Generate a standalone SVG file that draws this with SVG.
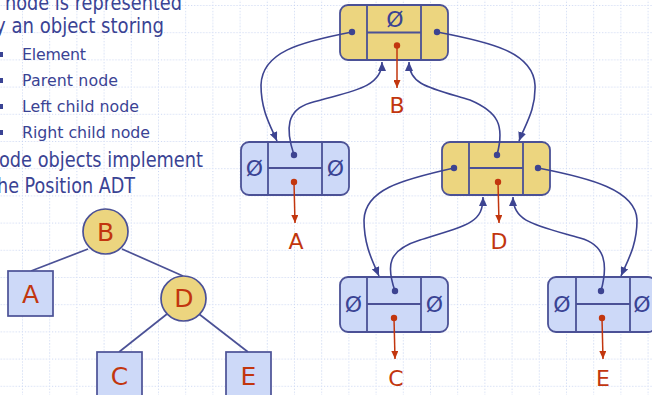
<svg xmlns="http://www.w3.org/2000/svg" width="652" height="395" viewBox="0 0 652 395">
  <defs>
    <style>
      .txt { font-family: "DejaVu Sans", Verdana, sans-serif; fill: #3a4394; }
      .main { font-size: 20.5px; }
      .sub { font-size: 15.8px; }
      .bullet { fill: #3a4394; }
      .tline { stroke: #4b5196; stroke-width: 1.7; fill: none; }
      .circ { fill: #ecd57f; stroke: #4b5196; stroke-width: 1.7; }
      .sq { fill: #cdd9f8; stroke: #4b5196; stroke-width: 1.7; }
      .tlabel { font-family: "DejaVu Sans", Verdana, sans-serif; font-size: 25px; fill: #c2360e; text-anchor: middle; }
      .box { stroke: #4b5196; stroke-width: 1.8; }
      .gold { fill: #ecd57f; }
      .blue { fill: #cdd9f8; }
      .div { stroke: #4b5196; stroke-width: 1.8; fill: none; }
      .null { font-family: "DejaVu Sans", Verdana, sans-serif; font-size: 22px; fill: #3a4394; text-anchor: middle; }
      .dot { fill: #3d4491; }
      .rdot { fill: #c2360e; }
      .link { stroke: #3d4491; stroke-width: 1.6; fill: none; marker-end: url(#arrow); }
      .elem { stroke: #c2360e; stroke-width: 1.5; fill: none; marker-end: url(#rarrow); }
      .nlabel { font-family: "DejaVu Sans", Verdana, sans-serif; font-size: 22px; fill: #c2360e; text-anchor: middle; }
    </style>
    <pattern id="grid" patternUnits="userSpaceOnUse" x="22" y="5" width="27.2" height="27.2">
      <path d="M0,0.5 H27.2 M0.5,0 V27.2" stroke="#c6d3f1" stroke-width="1" stroke-dasharray="1 2" fill="none"/>
    </pattern>
    <marker id="arrow" markerUnits="userSpaceOnUse" markerWidth="9" markerHeight="8" refX="9" refY="4" orient="auto">
      <path d="M0,0 L9,4 L0,8 z" fill="#3d4491"/>
    </marker>
    <marker id="rarrow" markerUnits="userSpaceOnUse" markerWidth="8" markerHeight="7" refX="8" refY="3.5" orient="auto">
      <path d="M0,0 L8,3.5 L0,7 z" fill="#c2360e"/>
    </marker>
  </defs>

  <!-- background with dotted grid -->
  <rect width="652" height="395" fill="#ffffff"/>
  <rect width="652" height="395" fill="url(#grid)"/>

  <!-- bullet text -->
  <g id="text">
    <text class="txt main" x="5" y="9.5" textLength="177" lengthAdjust="spacingAndGlyphs">node is represented</text>
    <text class="txt main" x="-5" y="33" textLength="169" lengthAdjust="spacingAndGlyphs">y an object storing</text>
    <rect class="bullet" x="-2" y="52" width="5" height="5"/>
    <text class="txt sub" x="22" y="60" textLength="64">Element</text>
    <rect class="bullet" x="-2" y="78" width="5" height="5"/>
    <text class="txt sub" x="22" y="86" textLength="96">Parent node</text>
    <rect class="bullet" x="-2" y="104" width="5" height="5"/>
    <text class="txt sub" x="22" y="112" textLength="117">Left child node</text>
    <rect class="bullet" x="-2" y="130" width="5" height="5"/>
    <text class="txt sub" x="22" y="138" textLength="128">Right child node</text>
    <text class="txt main" x="-1" y="167" textLength="204" lengthAdjust="spacingAndGlyphs">ode objects implement</text>
    <text class="txt main" x="-3" y="193" textLength="138" lengthAdjust="spacingAndGlyphs">he Position ADT</text>
  </g>

  <!-- small tree -->
  <g id="tree-edges">
    <line class="tline" x1="88" y1="249" x2="31" y2="271"/>
    <line class="tline" x1="122" y1="249" x2="183" y2="276"/>
    <line class="tline" x1="167" y1="314" x2="119" y2="352"/>
    <line class="tline" x1="199" y1="314" x2="248" y2="352"/>
  </g>
  <g id="tree-B">
    <circle class="circ" cx="105.5" cy="231.5" r="22.5"/>
    <text class="tlabel" x="105.5" y="240.5">B</text>
  </g>
  <g id="tree-A">
    <rect class="sq" x="8" y="271" width="45" height="45"/>
    <text class="tlabel" x="30.5" y="302.5">A</text>
  </g>
  <g id="tree-D">
    <circle class="circ" cx="183.5" cy="298.5" r="22.5"/>
    <text class="tlabel" x="184" y="307">D</text>
  </g>
  <g id="tree-C">
    <rect class="sq" x="97" y="352" width="45" height="45"/>
    <text class="tlabel" x="119.5" y="385">C</text>
  </g>
  <g id="tree-E">
    <rect class="sq" x="226" y="352" width="45" height="45"/>
    <text class="tlabel" x="248.5" y="385">E</text>
  </g>

  <!-- linked nodes -->
  <g id="node-B">
    <rect class="box gold" x="340" y="5" width="108" height="55" rx="8"/>
    <path class="div" d="M367,5 V60 M421,5 V60 M367,32.5 H421"/>
    <text class="null" x="395" y="27">Ø</text>
    <circle class="dot" cx="352" cy="32" r="3.2"/>
    <circle class="dot" cx="437" cy="32" r="3.2"/>
    <circle class="rdot" cx="397" cy="45.5" r="3.2"/>
    <text class="nlabel" x="397" y="113">B</text>
  </g>
  <g id="node-A">
    <rect class="box blue" x="241" y="142" width="108" height="53" rx="8"/>
    <path class="div" d="M268,142 V195 M322,142 V195 M268,168 H322"/>
    <text class="null" x="254.5" y="176">Ø</text>
    <text class="null" x="335.5" y="176">Ø</text>
    <circle class="dot" cx="294" cy="155" r="3.2"/>
    <circle class="rdot" cx="294" cy="182" r="3.2"/>
    <text class="nlabel" x="296" y="249">A</text>
  </g>
  <g id="node-D">
    <rect class="box gold" x="442" y="142" width="108" height="53" rx="8"/>
    <path class="div" d="M469,142 V195 M523,142 V195 M469,168 H523"/>
    <circle class="dot" cx="497" cy="155" r="3.2"/>
    <circle class="dot" cx="454" cy="168" r="3.2"/>
    <circle class="dot" cx="538" cy="168" r="3.2"/>
    <circle class="rdot" cx="498" cy="182" r="3.2"/>
    <text class="nlabel" x="499" y="249">D</text>
  </g>
  <g id="node-C">
    <rect class="box blue" x="340" y="277" width="108" height="55" rx="8"/>
    <path class="div" d="M367,277 V332 M421,277 V332 M367,304 H421"/>
    <text class="null" x="353.5" y="312">Ø</text>
    <text class="null" x="434.5" y="312">Ø</text>
    <circle class="dot" cx="395" cy="291" r="3.2"/>
    <circle class="rdot" cx="394" cy="318" r="3.2"/>
    <text class="nlabel" x="396" y="386">C</text>
  </g>
  <g id="node-E">
    <rect class="box blue" x="548" y="277" width="108" height="55" rx="8"/>
    <path class="div" d="M576,277 V332 M630,277 V332 M576,304 H630"/>
    <text class="null" x="562" y="312">Ø</text>
    <text class="null" x="642" y="312">Ø</text>
    <circle class="dot" cx="601" cy="291" r="3.2"/>
    <circle class="rdot" cx="602" cy="318" r="3.2"/>
    <text class="nlabel" x="603" y="386">E</text>
  </g>

  <!-- element and structure links -->
  <g id="connectors">
    <path class="elem" d="M397,45.5 L397,88"/>
    <path class="elem" d="M294,182 L295,223"/>
    <path class="elem" d="M498,182 L499,223"/>
    <path class="elem" d="M394,318 L395,359"/>
    <path class="elem" d="M602,318 L603,359"/>

    <path class="link" d="M352,32 C300,42 262,52 261,85 C261,110 270,125 277,141"/>
    <path class="link" d="M294,155 C285,128 287,110 310,103 C345,92 382,90 382,62"/>
    <path class="link" d="M437,32 C490,42 533,52 535,85 C536,110 525,125 519,141"/>
    <path class="link" d="M497,155 C505,125 498,112 470,100 C430,88 409,85 409,62"/>
    <path class="link" d="M454,168 C400,180 365,190 364,220 C364,245 372,260 379,276"/>
    <path class="link" d="M395,291 C386,265 388,250 420,240 C470,225 483,222 483,197"/>
    <path class="link" d="M538,168 C590,178 636,190 637,220 C637,245 628,260 621,276"/>
    <path class="link" d="M601,291 C608,265 606,245 580,238 C535,225 513,222 513,197"/>
  </g>
</svg>
